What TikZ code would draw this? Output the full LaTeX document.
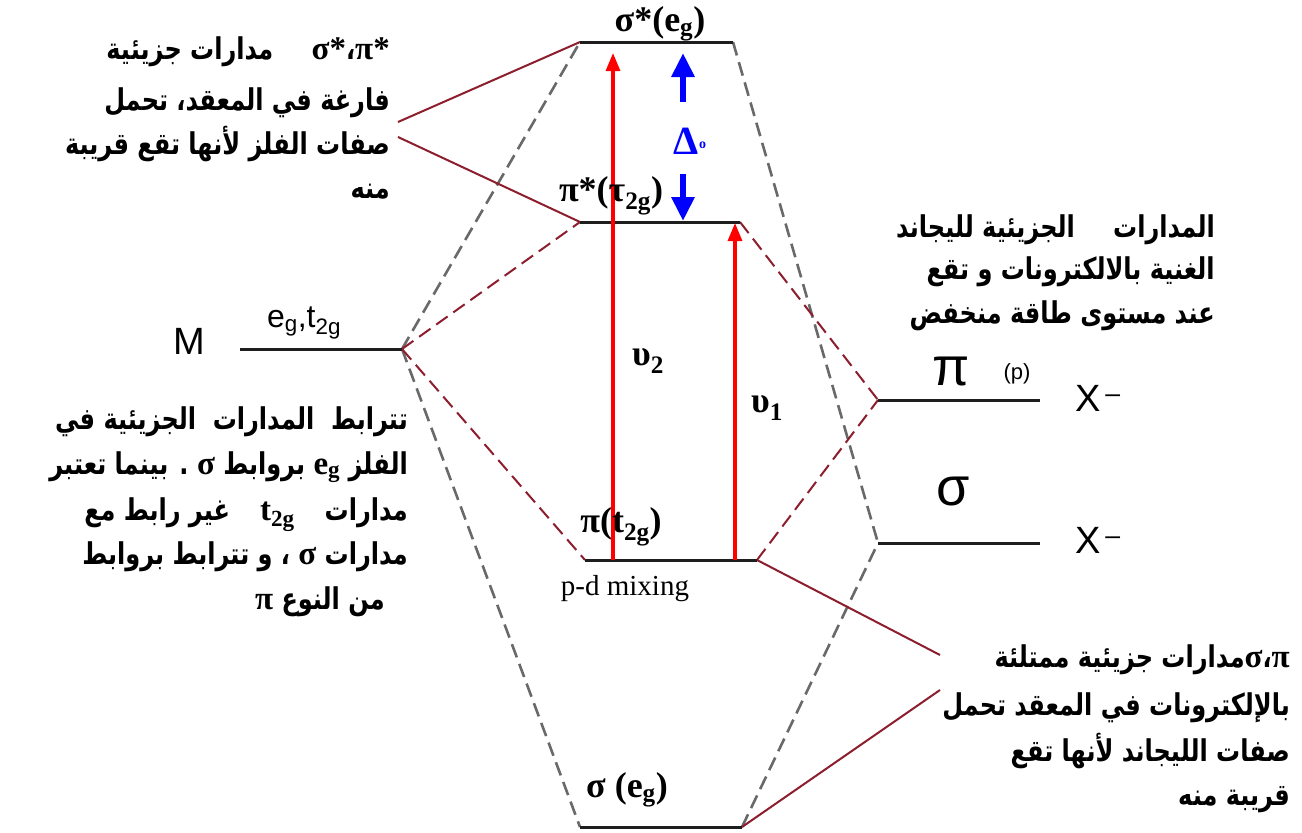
\documentclass[tikz,border=0pt]{standalone}
\usepackage{fontspec}
\setmainfont{Liberation Serif}
\newfontfamily\arabicfont[Script=Arabic,FakeStretch=0.8]{DejaVu Sans}
\newfontfamily\sansf{Liberation Sans}
\TeXXeTstate=1
\usetikzlibrary{arrows.meta}
\definecolor{dred}{RGB}{140,30,45}
\definecolor{lvl}{RGB}{30,30,30}
\definecolor{dgray}{RGB}{105,105,105}
\newcommand{\gk}[1]{{\rmfamily\bfseries\fontsize{33}{34}\selectfont #1}}
\newcommand{\gl}[1]{\beginL\gk{#1}\endL}
\tikzset{
  level/.style={draw=lvl, line width=3pt},
  gdash/.style={draw=dgray, line width=2.6pt, dash pattern=on 14pt off 7pt},
  rdash/.style={draw=dred, line width=2pt, dash pattern=on 14pt off 7pt},
  pointer/.style={draw=dred, line width=2pt},
  redarrow/.style={draw=red, line width=3.2pt, -{Triangle[length=18pt,width=14pt]}},
  bluearrow/.style={draw=blue, line width=6pt, -{Triangle[length=24pt,width=22pt]}},
  artext/.style={anchor=base east, inner sep=0pt, font=\arabicfont\bfseries\fontsize{30}{34}\selectfont},
  mlab/.style={inner sep=0pt, font=\rmfamily\bfseries\fontsize{36}{38}\selectfont},
  sanslab/.style={inner sep=0pt, font=\sansf\fontsize{38}{40}\selectfont}
}
\begin{document}
\begin{tikzpicture}[x=1pt,y=-1pt]
\useasboundingbox[fill=white] (0,0) rectangle (1302,833);
% level end points
\coordinate (sAL) at (580,42);  \coordinate (sAR) at (733,42);
\coordinate (pAL) at (580,222); \coordinate (pAR) at (740,222);
\coordinate (ML) at (240,349);  \coordinate (MR) at (402,349);
\coordinate (XpL) at (878,400); \coordinate (XpR) at (1040,400);
\coordinate (XsL) at (878,543); \coordinate (XsR) at (1040,543);
\coordinate (pBL) at (585,560); \coordinate (pBR) at (757,560);
\coordinate (sBL) at (580,827); \coordinate (sBR) at (742,827);
\coordinate (aTL1) at (398,122); \coordinate (aTL2) at (398,137);
\coordinate (aBR1) at (940,655); \coordinate (aBR2) at (940,690);
% correlation lines
\draw[gdash] (MR) -- (sAL);
\draw[gdash] (MR) -- (sBL);
\draw[gdash] (sAR) -- (XsL);
\draw[gdash] (sBR) -- (XsL);
\draw[rdash] (MR) -- (pAL);
\draw[rdash] (MR) -- (pBL);
\draw[rdash] (pAR) -- (XpL);
\draw[rdash] (pBR) -- (XpL);
% pointers
\draw[pointer] (aTL1) -- (sAL);
\draw[pointer] (aTL2) -- (pAL);
\draw[pointer] (pBR) -- (aBR1);
\draw[pointer] (sBR) -- (aBR2);
% levels
\draw[level] (sAL) -- (sAR);
\draw[level] (pAL) -- (pAR);
\draw[level] (ML) -- (MR);
\draw[level] (XpL) -- (XpR);
\draw[level] (XsL) -- (XsR);
\draw[level] (pBL) -- (pBR);
\draw[level] (sBL) -- (sBR);
% transitions
\coordinate (v2s) at (613,560); \coordinate (v2e) at (613,53);
\coordinate (v1s) at (735,560); \coordinate (v1e) at (735,223);
\draw[redarrow] (v2s) -- (v2e);
\draw[redarrow] (v1s) -- (v1e);
\coordinate (bu1) at (683,102); \coordinate (bu2) at (683,53);
\coordinate (bd1) at (683,174); \coordinate (bd2) at (683,221);
\draw[bluearrow] (bu1) -- (bu2);
\draw[bluearrow] (bd1) -- (bd2);
% MO labels
\node[mlab] (lsA) at (660,24) {σ*(e\textsubscript{g})};
\node[mlab] (lpA) at (611,196) {π*(τ\textsubscript{2g})};
\node[mlab] (lpB) at (621,527) {π(t\textsubscript{2g})};
\node[inner sep=0pt, font=\rmfamily\fontsize{29}{31}\selectfont] (pdm) at (625,589) {p-d mixing};
\node[mlab] (lsB) at (627,790) {σ (e\textsubscript{g})};
\node[mlab] (u2) at (648,361) {υ\textsubscript{2}};
\node[mlab] (u1) at (767,408) {υ\textsubscript{1}};
\node[inner sep=0pt, text=blue, font=\rmfamily\bfseries\fontsize{40}{42}\selectfont] (delta) at (690,141) {Δ\raisebox{0.15em}{\fontsize{14}{14}\selectfont o}};
% atom labels
\node[sanslab] (Mlab) at (189,341) {M};
\node[inner sep=0pt, font=\sansf\fontsize{32}{34}\selectfont] (Meg) at (304,323) {e\textsubscript{g},t\textsubscript{2g}};
\node[inner sep=0pt, font=\sansf\fontsize{54}{56}\selectfont] (Xpi) at (951,371) {π};
\node[inner sep=0pt, font=\sansf\fontsize{22}{24}\selectfont] (Xp) at (1017,374) {(p)};
\node[inner sep=0pt, font=\sansf\fontsize{54}{56}\selectfont] (Xsig) at (953,491) {σ};
\node[sanslab] (X1) at (1098,398) {X\textsuperscript{\,–}};
\node[sanslab] (X2) at (1098,540) {X\textsuperscript{\,–}};
% Arabic notes: top left
\node[artext] (tl1) at (390,59) {\beginR\beginL\gk{σ*}،\gk{π*}\endL\quad\ مدارات جزيئية\endR};
\node[artext] (tl2) at (390,110) {\beginR فارغة في المعقد، تحمل\endR};
\node[artext] (tl3) at (390,154) {\beginR صفات الفلز لأنها تقع قريبة\endR};
\node[artext] (tl4) at (390,198) {\beginR منه\endR};
% top right
\node[artext] (tr1) at (1215,237) {\beginR المدارات\quad\ الجزيئية لليجاند\endR};
\node[artext] (tr2) at (1215,279) {\beginR الغنية بالالكترونات و تقع\endR};
\node[artext] (tr3) at (1215,323) {\beginR عند مستوى طاقة منخفض\endR};
% left middle
\node[artext] (lm1) at (408,429) {\beginR تترابط\ \ المدارات\ \ الجزيئية في\endR};
\node[artext] (lm2) at (408,474) {\beginR الفلز \gl{e\textsubscript{g}} بروابط \gl{σ} . بينما تعتبر\endR};
\node[artext] (lm3) at (408,520) {\beginR مدارات\quad \gl{t\textsubscript{2g}}\quad غير رابط مع\endR};
\node[artext] (lm4) at (408,564) {\beginR مدارات \gl{σ} ، و تترابط بروابط\endR};
\node[artext] (lm5) at (385,609) {\beginR من النوع \gl{π}\endR};
% bottom right
\node[artext] (br1) at (1290,667) {\beginR\beginL\gk{σ}،\gk{π}\endL مدارات جزيئية ممتلئة\endR};
\node[artext] (br2) at (1290,715) {\beginR بالإلكترونات في المعقد تحمل\endR};
\node[artext] (br3) at (1290,761) {\beginR صفات الليجاند لأنها تقع\endR};
\node[artext] (br4) at (1290,805) {\beginR قريبة منه\endR};
\end{tikzpicture}
\end{document}
